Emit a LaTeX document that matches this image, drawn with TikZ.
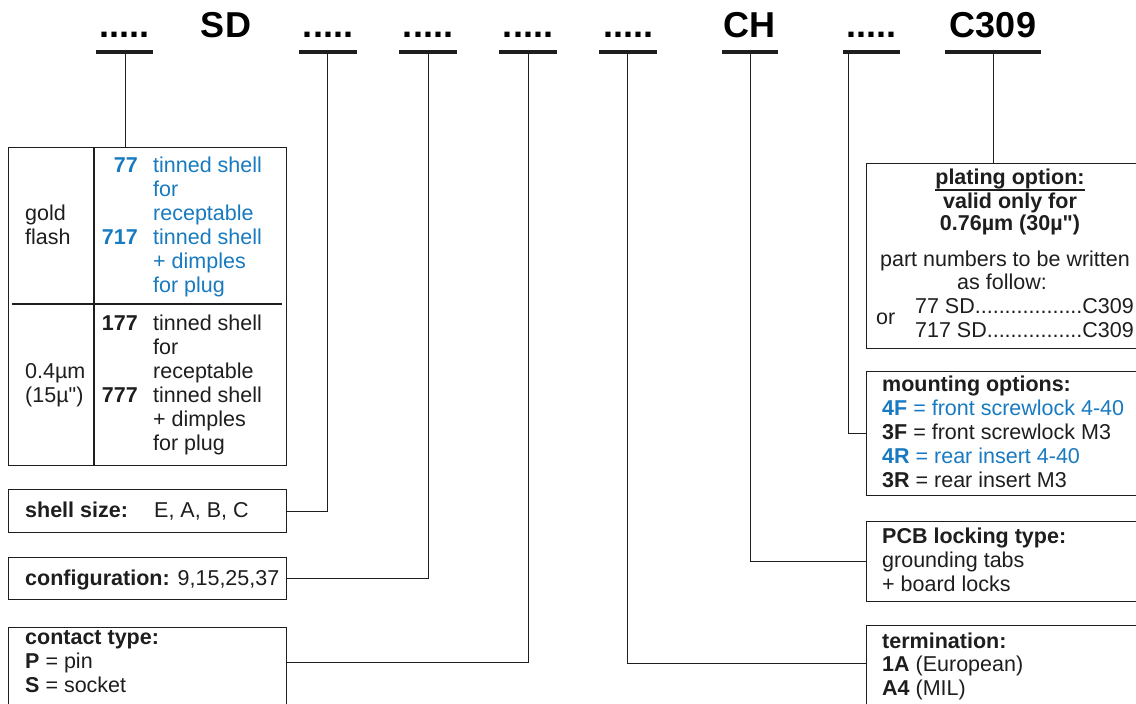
\documentclass[tikz,border=0pt]{standalone}
\usepackage{fontspec}
\setmainfont{Liberation Sans}[Ligatures=TeXOff]
\usetikzlibrary{calc}
\definecolor{blu}{RGB}{24,122,192}
\definecolor{ink}{RGB}{30,30,30}
\begin{document}
\begin{tikzpicture}[x=1pt,y=-1pt,
  hd/.style={font=\fontsize{36}{40}\selectfont\bfseries, anchor=base, inner sep=0pt},
  ul/.style={line width=4pt, ink},
  conn/.style={draw=ink, line width=0.9pt},
  boxn/.style={draw=ink, line width=1.1pt, rectangle, anchor=north west, inner sep=0pt},
  tx/.style={font=\fontsize{21.5}{24}\selectfont, anchor=base west, inner sep=0pt, text=ink},
  txe/.style={tx, anchor=base east},
  txc/.style={tx, anchor=base},
  bl/.style={text=blu}]
\useasboundingbox (0,0) rectangle (1136,704);
\clip (0,0) rectangle (1136,704);
\fill[white] (0,0) rectangle (1136,704);

% ---------- header ----------
\node[hd] (h1) at (124.5,37.5) {.....};
\node[hd] (h2) at (226,37.5) {SD};
\node[hd] (h3) at (328,37.5) {.....};
\node[hd] (h4) at (428,37.5) {.....};
\node[hd] (h5) at (528,37.5) {.....};
\node[hd] (h6) at (628,37.5) {.....};
\node[hd] (h7) at (749.5,37.5) {CH};
\node[hd] (h8) at (871,37.5) {.....};
\node[hd] (h9) at (993,37.5) {C309};

\draw[ul] (96,52) -- (153,52);
\draw[ul] (299,52) -- (357,52);
\draw[ul] (399,52) -- (457,52);
\draw[ul] (499,52) -- (557,52);
\draw[ul] (599,52) -- (657,52);
\draw[ul] (722,52) -- (778,52);
\draw[ul] (843,52) -- (900,52);
\draw[ul] (945,52) -- (1041,52);

\coordinate (u1) at (125,54);
\coordinate (u2) at (327.5,54);
\coordinate (u3) at (428.5,54);
\coordinate (u4) at (528.5,54);
\coordinate (u5) at (627.5,54);
\coordinate (u6) at (750,54);
\coordinate (u7) at (848.5,54);
\coordinate (u8) at (993,54);

% ---------- boxes ----------
\node[boxn, minimum width=278pt, minimum height=318pt] (plate) at (8,147) {};
\node[boxn, minimum width=278pt, minimum height=43pt] (shell) at (8,489) {};
\node[boxn, minimum width=278pt, minimum height=42pt] (conf) at (8,557) {};
\node[boxn, minimum width=278pt, minimum height=100pt] (cont) at (8,627) {};

\node[boxn, minimum width=300pt, minimum height=185pt] (plat) at (866,163) {};
\node[boxn, minimum width=300pt, minimum height=124pt] (mount) at (866,371) {};
\node[boxn, minimum width=300pt, minimum height=80pt] (pcb) at (866,521) {};
\node[boxn, minimum width=300pt, minimum height=100pt] (term) at (866,625) {};

% inner dividers of the left table
\draw[ink, line width=1.1pt] (94,147) -- (94,465);
\draw[ink, line width=1.1pt] (12,304) -- (282,304);

% ---------- connectors ----------
\draw[conn] (u1) -- (u1 |- plate.north);
\draw[conn] (u2) |- (shell.east);
\draw[conn] (u3) |- (conf.east);
\draw[conn] (u4) |- ($(cont.north east)+(0,35)$);
\draw[conn] (u5) |- ($(term.north west)+(0,38)$);
\draw[conn] (u6) |- (pcb.west);
\draw[conn] (u7) |- (mount.west);
\draw[conn] (u8) -- (u8 |- plat.north);

% ---------- left table text ----------
\node[txe, bl] (a1) at (138,172) {\textbf{77}};
\node[tx, bl] (a2) at (153,172) {tinned shell};
\node[tx, bl] (a3) at (153,196) {for};
\node[tx, bl] (a4) at (153,220) {receptable};
\node[txe, bl] (a5) at (138,244) {\textbf{717}};
\node[tx, bl] (a6) at (153,244) {tinned shell};
\node[tx, bl] (a7) at (153,268) {+ dimples};
\node[tx, bl] (a8) at (153,292) {for plug};
\node[tx] (g1) at (25,220) {gold};
\node[tx] (g2) at (25,244) {flash};

\node[txe] (b1) at (138,330) {\textbf{177}};
\node[tx] (b2) at (153,330) {tinned shell};
\node[tx] (b3) at (153,354) {for};
\node[tx] (b4) at (153,378) {receptable};
\node[txe] (b5) at (138,402) {\textbf{777}};
\node[tx] (b6) at (153,402) {tinned shell};
\node[tx] (b7) at (153,426) {+ dimples};
\node[tx] (b8) at (153,450) {for plug};
\node[tx] (g3) at (25,378) {0.4µm};
\node[tx] (g4) at (25,402) {(15µ")};

% ---------- left boxes text ----------
\node[tx] (s1) at (25,517) {\textbf{shell size:}};
\node[tx] (s2) at (154,517) {E, A, B, C};
\node[tx] (c1) at (25,585) {\textbf{configuration:} 9,15,25,37};
\node[tx] (k1) at (25,644) {\textbf{contact type:}};
\node[tx] (k2) at (25,668) {\textbf{P} = pin};
\node[tx] (k3) at (25,692) {\textbf{S} = socket};

% ---------- plating option ----------
\node[txc] (p1) at (1010,184) {\textbf{plating option:\ }};
\draw[ink, line width=1.2pt] ($(p1.base west)+(0,6)$) -- ($(p1.base east)+(0,6)$);
\node[txc] (p2) at (1010,208) {\textbf{valid only for}};
\node[txc] (p3) at (1010,230) {\textbf{0.76µm (30µ")}};
\node[txc] (p4) at (1005,266) {part numbers to be written};
\node[txc] (p5) at (1002,289) {as follow:};
\node[tx] (p6) at (876,324) {or};
\node[txe] (p7) at (1134,313) {77 SD..................C309};
\node[txe] (p8) at (1134,337) {717 SD................C309};

% ---------- mounting ----------
\node[tx] (m1) at (882,391) {\textbf{mounting options:}};
\node[tx, bl] (m2) at (882,415) {\textbf{4F} = front screwlock 4-40};
\node[tx] (m3) at (882,439) {\textbf{3F} = front screwlock M3};
\node[tx, bl] (m4) at (882,463) {\textbf{4R} = rear insert 4-40};
\node[tx] (m5) at (882,487) {\textbf{3R} = rear insert M3};

% ---------- PCB ----------
\node[tx] (q1) at (882,543) {\textbf{PCB locking type:}};
\node[tx] (q2) at (882,567) {grounding tabs};
\node[tx] (q3) at (882,591) {+ board locks};

% ---------- termination ----------
\node[tx] (t1) at (882,648) {\textbf{termination:}};
\node[tx] (t2) at (882,671) {\textbf{1A} (European)};
\node[tx] (t3) at (882,695) {\textbf{A4} (MIL)};
\end{tikzpicture}
\end{document}
